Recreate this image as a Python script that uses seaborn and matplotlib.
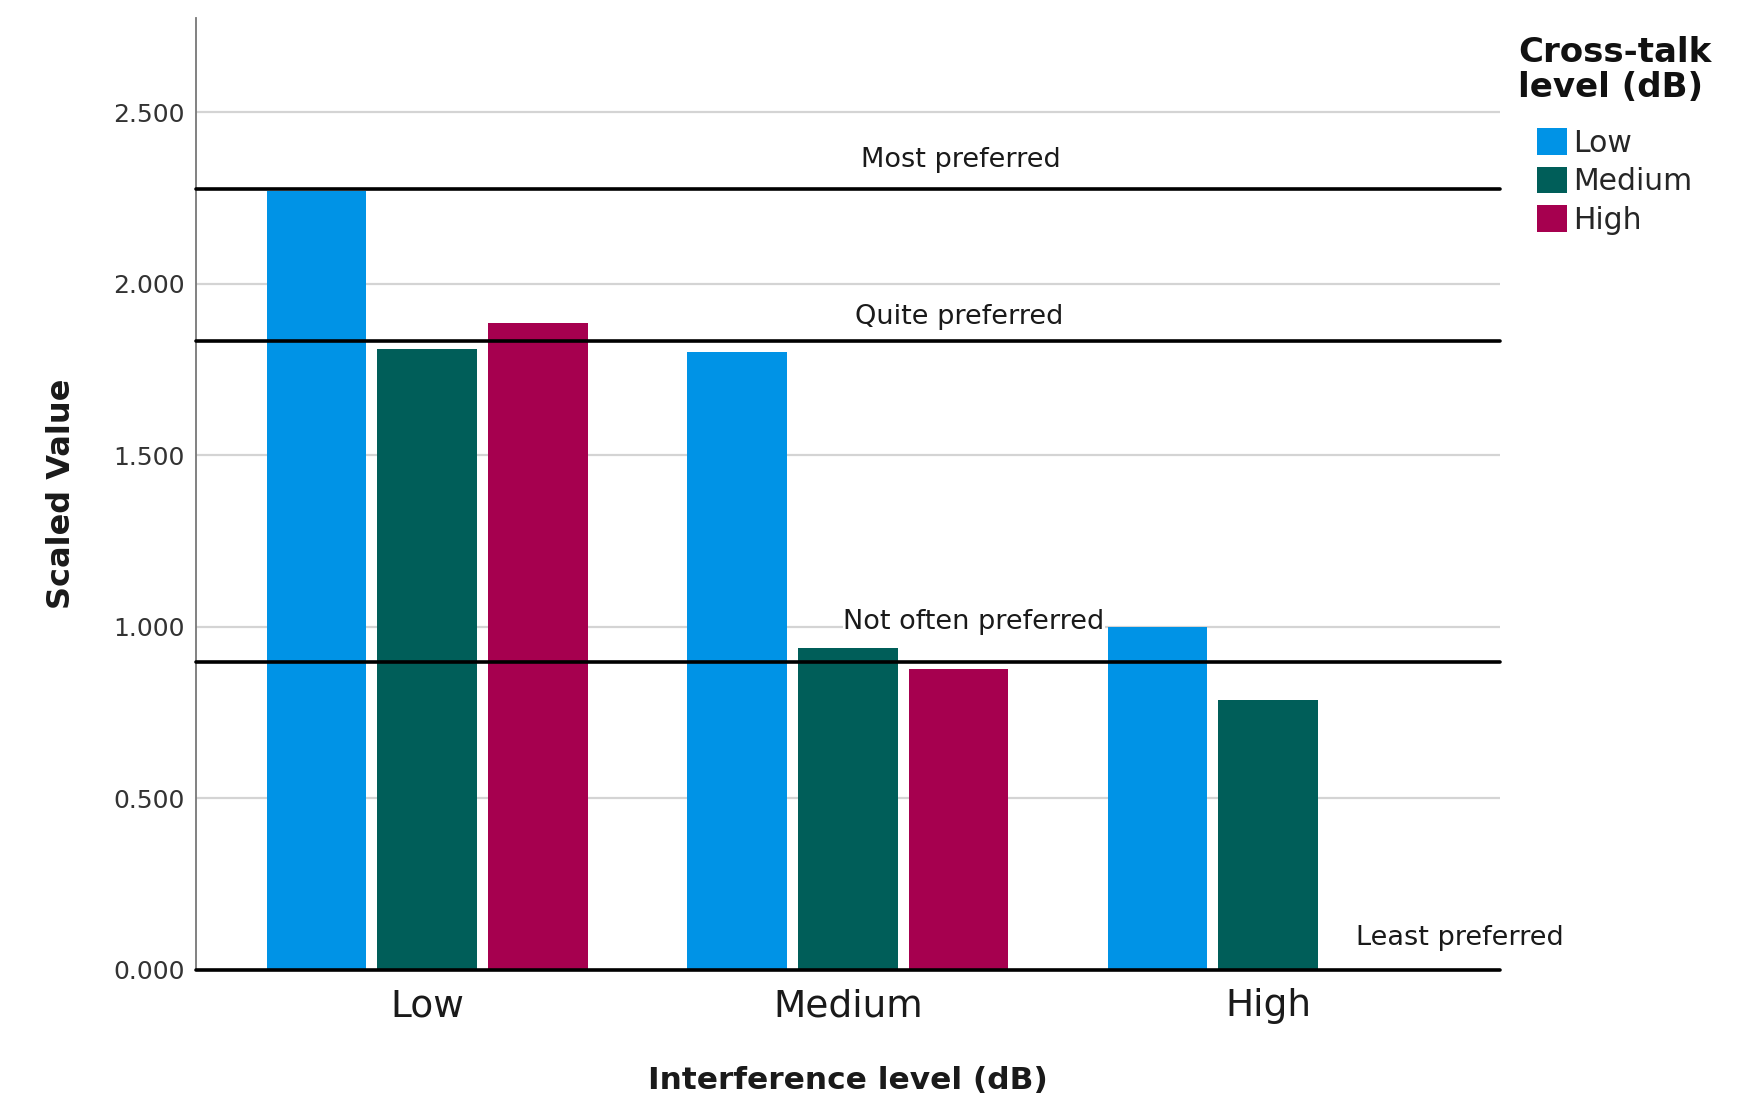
import matplotlib
matplotlib.use("Agg")
import matplotlib.pyplot as plt
import seaborn as sns
import numpy as np
import pandas as pd

# Values
interference = ["Low", "Medium", "High"]
crosstalk = ["Low", "Medium", "High"]
low_crosstalk = [2.27, 1.80, 1.00]
medium_crosstalk = [1.81, 0.938, 0.788]
high_crosstalk = [1.886, 0.876, np.nan]

# Preference thresholds drawn as reference lines
pref_labels = ["Most preferred", "Quite preferred", "Not often preferred", "Least preferred"]
pref_levels = [2.275, 1.833, 0.899, 0.0]

colors = ["#0093e6", "#005e59", "#a6004f"]

# long-form table for seaborn
df = pd.DataFrame({
    "Interference": interference * 3,
    "Crosstalk": np.repeat(crosstalk, 3),
    "Value": low_crosstalk + medium_crosstalk + high_crosstalk,
})

sns.set_style("white")
plt.rcParams["font.family"] = ["DejaVu Sans"]

fig = plt.figure(figsize=(17.58, 11.02), dpi=100)
ax = fig.add_axes([0.1115, 0.1198, 0.7415, 0.8639])

sns.barplot(data=df, x="Interference", y="Value", hue="Crosstalk",
            order=interference, hue_order=crosstalk, palette=colors,
            width=0.79, gap=0.1, errorbar=None, saturation=1,
            linewidth=0, ax=ax)

# gridlines behind bars
ax.set_axisbelow(True)
ax.yaxis.grid(True, color="#d4d4d4", linewidth=1.6)
ax.set_yticks(np.arange(0, 2.51, 0.5))
ax.yaxis.set_major_formatter(matplotlib.ticker.FormatStrFormatter("%.3f"))
ax.set_ylim(0, 2.775)
ax.set_xlim(-0.55, 2.55)

# reference lines with their labels
label_x = [1.27, 1.264, 1.30, 2.456]
label_dy = [0.085, 0.069, 0.114, 0.092]
for lab, lev, lx, dy in zip(pref_labels, pref_levels, label_x, label_dy):
    ax.axhline(lev, color="black", linewidth=2.6, zorder=5, clip_on=False)
    ax.text(lx, lev + dy, lab, ha="center", va="center", fontsize=19.5,
            color="#1a1a1a", zorder=6,
            bbox=dict(facecolor="white", edgecolor="none", pad=0.5))

for side in ["top", "right", "bottom"]:
    ax.spines[side].set_visible(False)
ax.spines["left"].set_color("#777777")
ax.spines["left"].set_linewidth(1.3)

ax.tick_params(axis="y", length=0, labelsize=18, labelcolor="#333333", pad=8)
ax.tick_params(axis="x", length=0, labelsize=27, labelcolor="#1a1a1a", pad=13)

ax.set_xlabel("Interference level (dB)", fontsize=22.5, fontweight="bold",
              color="#1a1a1a", labelpad=30)
ax.set_ylabel("Scaled Value", fontsize=23, fontweight="bold",
              color="#1a1a1a", labelpad=26)

sns.move_legend(ax, "upper left", bbox_to_anchor=(0.855, 0.981),
                bbox_transform=fig.transFigure, frameon=False,
                title="Cross-talk\nlevel (dB)", fontsize=21.5,
                title_fontproperties={"weight": "bold", "size": 24.5},
                handlelength=1.0, handleheight=1.0, handletextpad=0.2,
                labelspacing=0.3, borderpad=0)
leg = ax.get_legend()
leg.get_title().set_linespacing(1.1)
leg.get_title().set_color("#111111")
# extra room between the title and the entries
leg._legend_box.sep = 17

fig.savefig("out.png", dpi=100)
